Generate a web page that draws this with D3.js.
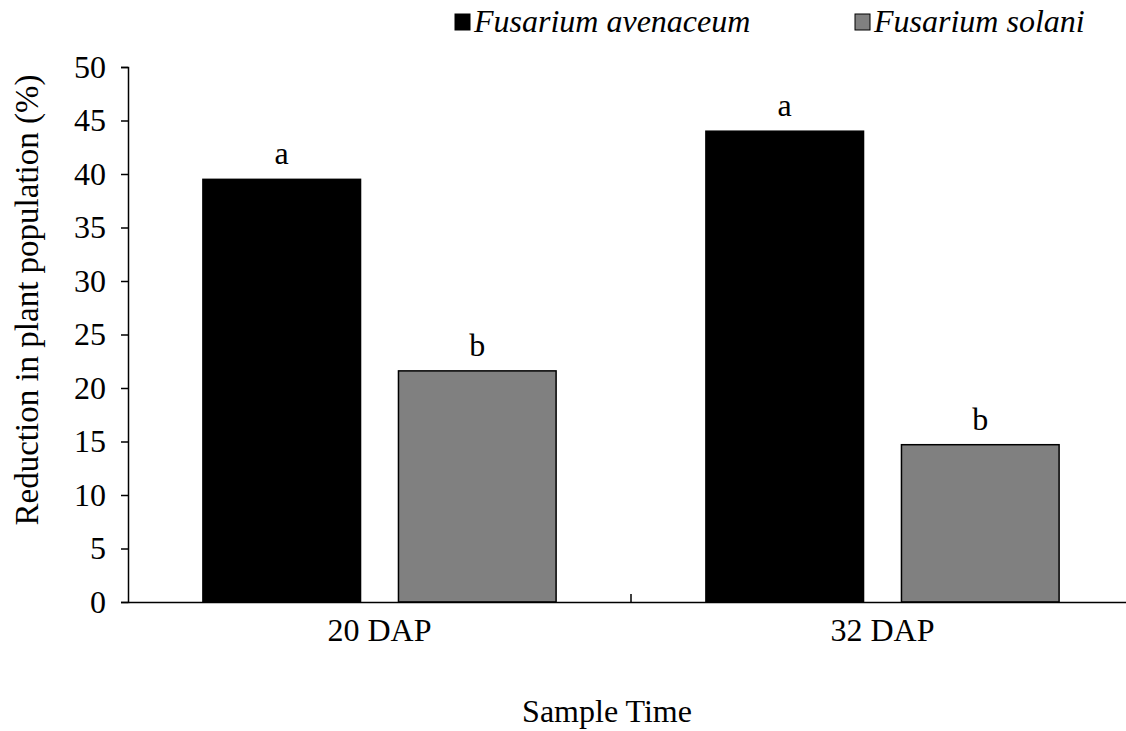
<!DOCTYPE html>
<html>
<head>
<meta charset="utf-8">
<script src="https://cdn.jsdelivr.net/npm/d3@7.9.0/dist/d3.min.js"></script>
<style>
  body { margin: 0; background: #fff; }
  svg text { font-family: "Liberation Serif", "Times New Roman", serif; fill: #000; }
</style>
</head>
<body>
<svg id="chart" width="1126" height="731"></svg>
<script>
// chart data
const categories = ['20 DAP', '32 DAP'];
const seriesNames = ['Fusarium avenaceum', 'Fusarium solani'];
const avenaceum = [39.5, 44.0];
const solani = [21.6, 14.7];
const letters = [['a', 'b'], ['a', 'b']];
const yTicks = [0, 5, 10, 15, 20, 25, 30, 35, 40, 45, 50];

const colors = ['#000000', '#808080'];
const fontSize = '32px';

const svg = d3.select('#chart');
const margin = { left: 128, right: -8, top: 67, bottom: 129 };
const width = 1126 - margin.left - margin.right;
const height = 731 - margin.top - margin.bottom;

const g = svg.append('g').attr('transform', `translate(${margin.left},${margin.top})`);

// scales
let x0 = d3.scaleBand().domain(categories).range([0, width]).paddingInner(0).paddingOuter(0);
let x1 = d3.scaleBand().domain(seriesNames).range([0, x0.bandwidth()]).paddingInner(0.194).paddingOuter(0.383);
let y = d3.scaleLinear().domain([0, 50]).range([height, 0]);

// bars
const rows = categories.map((c, i) => ({
  cat: c,
  vals: [avenaceum[i], solani[i]],
  letters: letters[i]
}));

const groups = g.selectAll('g.cat')
  .data(rows)
  .enter()
  .append('g')
  .attr('class', 'cat')
  .attr('transform', (d) => `translate(${x0(d.cat)},0)`);

groups.selectAll('rect')
  .data((d) => d.vals.map((v, j) => ({ name: seriesNames[j], value: v, j })))
  .enter()
  .append('rect')
  .attr('x', (d) => x1(d.name))
  .attr('y', (d) => y(d.value))
  .attr('width', x1.bandwidth())
  .attr('height', (d) => y(0) - y(d.value))
  .attr('fill', (d) => colors[d.j])
  .attr('stroke', '#000')
  .attr('stroke-width', 1.5);

// significance letters
groups.selectAll('text.letter')
  .data((d) => d.vals.map((v, j) => ({ name: seriesNames[j], value: v, letter: d.letters[j] })))
  .enter()
  .append('text')
  .attr('class', 'letter')
  .attr('x', (d) => x1(d.name) + x1.bandwidth() / 2)
  .attr('y', (d) => y(d.value) - 15)
  .attr('text-anchor', 'middle')
  .style('font-size', fontSize)
  .text((d) => d.letter);

// y axis
let yAxis = g.append('g')
  .call(d3.axisLeft(y).tickValues(yTicks).tickSize(7).tickSizeOuter(7).tickPadding(15));
yAxis.attr('font-family', null).attr('font-size', null);
yAxis.selectAll('text').style('font-size', fontSize);
yAxis.selectAll('line, path').attr('stroke', '#000').attr('stroke-width', 1.5);

// x axis
let xAxis = g.append('g')
  .attr('transform', `translate(0,${height})`)
  .call(d3.axisBottom(x0).tickSize(0).tickPadding(16).tickSizeOuter(0));
xAxis.attr('font-family', null).attr('font-size', null);
xAxis.selectAll('text').style('font-size', fontSize);
xAxis.select('path').attr('stroke', '#000').attr('stroke-width', 1.5);

// divider tick between categories (pointing up)
g.append('line')
  .attr('x1', x0('32 DAP'))
  .attr('x2', x0('32 DAP'))
  .attr('y1', height)
  .attr('y2', height - 8)
  .attr('stroke', '#000')
  .attr('stroke-width', 1.5);

// axis titles
svg.append('text')
  .attr('transform', 'translate(30,300) rotate(-90)')
  .attr('text-anchor', 'middle')
  .attr('dominant-baseline', 'middle')
  .style('font-size', '33px')
  .text('Reduction in plant population (%)');

svg.append('text')
  .attr('x', 607)
  .attr('y', 722)
  .attr('text-anchor', 'middle')
  .style('font-size', fontSize)
  .text('Sample Time');

// legend
const legendX = [455, 855];
const legend = svg.selectAll('g.legend')
  .data(seriesNames)
  .enter()
  .append('g')
  .attr('class', 'legend')
  .attr('transform', (d, i) => `translate(${legendX[i]},14)`);

legend.append('rect')
  .attr('width', 15)
  .attr('height', 16)
  .attr('fill', (d, i) => colors[i])
  .attr('stroke', '#000')
  .attr('stroke-width', 1);

legend.append('text')
  .attr('x', 19)
  .attr('y', 18)
  .style('font-size', fontSize)
  .style('font-style', 'italic')
  .text((d) => d);
</script>
</body>
</html>
